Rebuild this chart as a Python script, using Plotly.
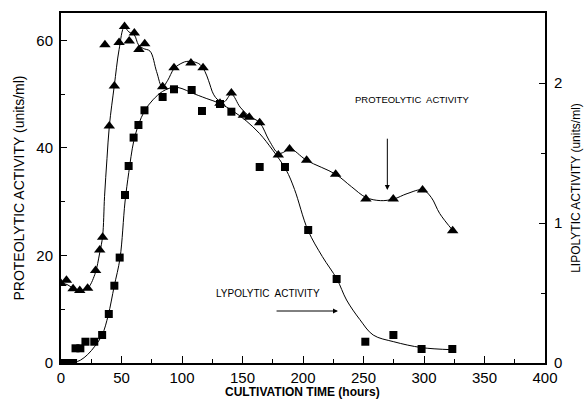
import plotly.graph_objects as go

# Proteolytic activity measurements (units/ml, left axis)
prot_hours = [0, 4.5, 10, 15.5, 22, 28.6, 32, 34.4, 36.3, 39.9, 44.1, 48, 52.5, 56.4,
              60.6, 64.4, 69.2, 84, 93.4, 107.4, 117.4, 131.4, 140.8, 150.7, 155.6,
              164.2, 179.6, 188.9, 203, 227, 252, 274.6, 298.8, 323.7]
prot_values = [14.8, 15.4, 13.8, 13.5, 13.9, 17.2, 21.0, 23.4, 59.2, 44.1, 51.5, 59.6,
               62.6, 59.9, 61.4, 58.3, 59.4, 51.4, 54.9, 55.8, 54.9, 48.3, 50.2, 46.1,
               45.7, 44.7, 38.7, 39.8, 37.7, 35.1, 30.5, 30.5, 32.2, 24.6]

# Smoothed proteolytic trend
prot_fit_hours = [0, 5, 10, 16, 22, 28, 32, 34.4, 36, 38, 40, 44, 48, 52.3, 56, 60.6,
                  64, 68, 73.6, 79, 83.7, 88, 93.6, 100, 104, 110, 115, 119, 122, 126,
                  130, 135, 140.8, 148, 155, 164.2, 172, 179.6, 184, 189, 203, 227,
                  240, 252, 264, 275, 286, 299, 306, 313, 324]
prot_fit_values = [14.8, 14.6, 13.9, 13.5, 13.9, 16.5, 20.5, 23.6, 31, 38, 44.2, 51.5,
                   58.3, 62.5, 61.6, 61.0, 59.2, 58.5, 58.0, 54.2, 51.3, 52.5, 54.8,
                   55.8, 56.1, 56.0, 55.5, 54.2, 52.5, 50.0, 48.9, 48.6, 50.0, 47.6,
                   46.0, 44.7, 41.4, 39.0, 39.2, 39.9, 37.7, 35.1, 32.8, 30.8, 30.2,
                   30.5, 31.5, 32.2, 30.8, 27.8, 24.6]

# Lipolytic activity measurements (units/ml, right axis)
lip_hours = [0, 5, 10, 12, 16, 20.2, 27.5, 34, 39.5, 44.1, 48.5, 52.9, 55.9, 60, 64,
             69, 84, 93.4, 108, 116.5, 131.4, 140.8, 164.2, 185.1, 204.3, 227.8, 251.5,
             274.7, 298, 323.4]
lip_values = [0, 0, 0, 0.105, 0.105, 0.152, 0.152, 0.2, 0.35, 0.552, 0.753, 1.2, 1.407,
              1.61, 1.70, 1.805, 1.90, 1.955, 1.95, 1.80, 1.85, 1.795, 1.40, 1.40, 0.95,
              0.60, 0.152, 0.20, 0.10, 0.10]

# Smoothed lipolytic trend
lip_fit_hours = [10, 16, 22, 28, 34, 39, 44, 48.8, 52.9, 56, 60, 64, 69, 76, 84, 93,
                 100, 108, 120, 131, 142, 153, 164, 175, 186, 193, 204, 216, 228, 236,
                 247, 258, 275, 298, 323]
lip_fit_values = [0, 0.02, 0.06, 0.12, 0.2, 0.34, 0.55, 0.75, 1.15, 1.36, 1.58, 1.70,
                  1.80, 1.88, 1.94, 1.97, 1.96, 1.93, 1.89, 1.855, 1.80, 1.73, 1.64,
                  1.52, 1.38, 1.24, 0.95, 0.76, 0.60, 0.45, 0.31, 0.20, 0.152, 0.11,
                  0.095]

x_ticks = [0, 50, 100, 150, 200, 250, 300, 350, 400]
left_ticks = [0, 20, 40, 60]
right_ticks = [0, 1, 2]

FONT = "Liberation Sans, Arial, sans-serif"

fig = go.Figure()

fig.add_trace(go.Scatter(
    x=prot_fit_hours, y=prot_fit_values, mode="lines",
    line=dict(color="black", width=1, shape="spline", smoothing=1.0),
    hoverinfo="skip", showlegend=False))
fig.add_trace(go.Scatter(
    x=prot_hours, y=prot_values, mode="markers",
    marker=dict(symbol="triangle-up", size=10, color="black"),
    name="Proteolytic activity", showlegend=False))

fig.add_trace(go.Scatter(
    x=lip_fit_hours, y=lip_fit_values, mode="lines", yaxis="y2",
    line=dict(color="black", width=1, shape="spline", smoothing=1.0),
    hoverinfo="skip", showlegend=False))
fig.add_trace(go.Scatter(
    x=lip_hours, y=lip_values, mode="markers", yaxis="y2",
    marker=dict(symbol="square", size=8, color="black"),
    name="Lipolytic activity", showlegend=False))

fig.update_layout(
    width=587, height=402,
    margin=dict(l=61, r=42, t=13, b=39),
    paper_bgcolor="white", plot_bgcolor="white",
    font=dict(family=FONT, color="black"),
    xaxis=dict(
        range=[0, 400], tickvals=x_ticks, showgrid=False, zeroline=False,
        showline=True, linecolor="black", linewidth=2, mirror=True,
        ticks="inside", ticklen=7, tickwidth=1, tickcolor="black",
        minor=dict(dtick=25, ticks="inside", ticklen=4, tickwidth=1, tickcolor="black"),
        tickfont=dict(size=15, family=FONT), automargin=False,
    ),
    yaxis=dict(
        range=[0, 65.1], tickvals=left_ticks, showgrid=False, zeroline=False,
        showline=True, linecolor="black", linewidth=2,
        ticks="inside", ticklen=6, tickwidth=1, tickcolor="black",
        minor=dict(dtick=10, ticks="inside", ticklen=4, tickwidth=1, tickcolor="black"),
        tickfont=dict(size=15, family=FONT), ticklabelstandoff=3, automargin=False,
        title=dict(text="PROTEOLYTIC ACTIVITY (units/ml)", font=dict(size=14, family=FONT),
                   standoff=8),
    ),
    yaxis2=dict(
        range=[0, 2.5], tickvals=right_ticks, overlaying="y", side="right",
        showgrid=False, zeroline=False,
        showline=True, linecolor="black", linewidth=2,
        ticks="inside", ticklen=6, tickwidth=1, tickcolor="black",
        minor=dict(dtick=0.5, ticks="inside", ticklen=4, tickwidth=1, tickcolor="black"),
        tickfont=dict(size=15, family=FONT), ticklabelstandoff=4, automargin=False,
        title=dict(text="LIPOLYTIC ACTIVITY (units/ml)", font=dict(size=12, family=FONT),
                   standoff=10),
    ),
)

# Horizontal axis title
fig.add_annotation(
    x=0.499, y=-0.083, xref="paper", yref="paper", xanchor="center", yanchor="middle",
    text="<b>CULTIVATION TIME (hours)</b>", showarrow=False,
    font=dict(size=12, family=FONT))

# Labels with pointer arrows
fig.add_annotation(
    x=269.7, y=32.2, ax=269.7, ay=42, xref="x", yref="y", axref="x", ayref="y",
    text="", showarrow=True, arrowhead=2, arrowsize=1, arrowwidth=1, arrowcolor="black")
fig.add_annotation(
    x=290.5, y=49.1, xref="x", yref="y", text="PROTEOLYTIC  ACTIVITY",
    showarrow=False, font=dict(size=9.5, family=FONT))
fig.add_annotation(
    x=228.9, y=9.67, ax=176.9, ay=9.67, xref="x", yref="y", axref="x", ayref="y",
    text="", showarrow=True, arrowhead=2, arrowsize=1, arrowwidth=1, arrowcolor="black")
fig.add_annotation(
    x=170.7, y=13.0, xref="x", yref="y", text="LYPOLYTIC  ACTIVITY",
    showarrow=False, font=dict(size=10, family=FONT))

fig.write_html("out.html")
